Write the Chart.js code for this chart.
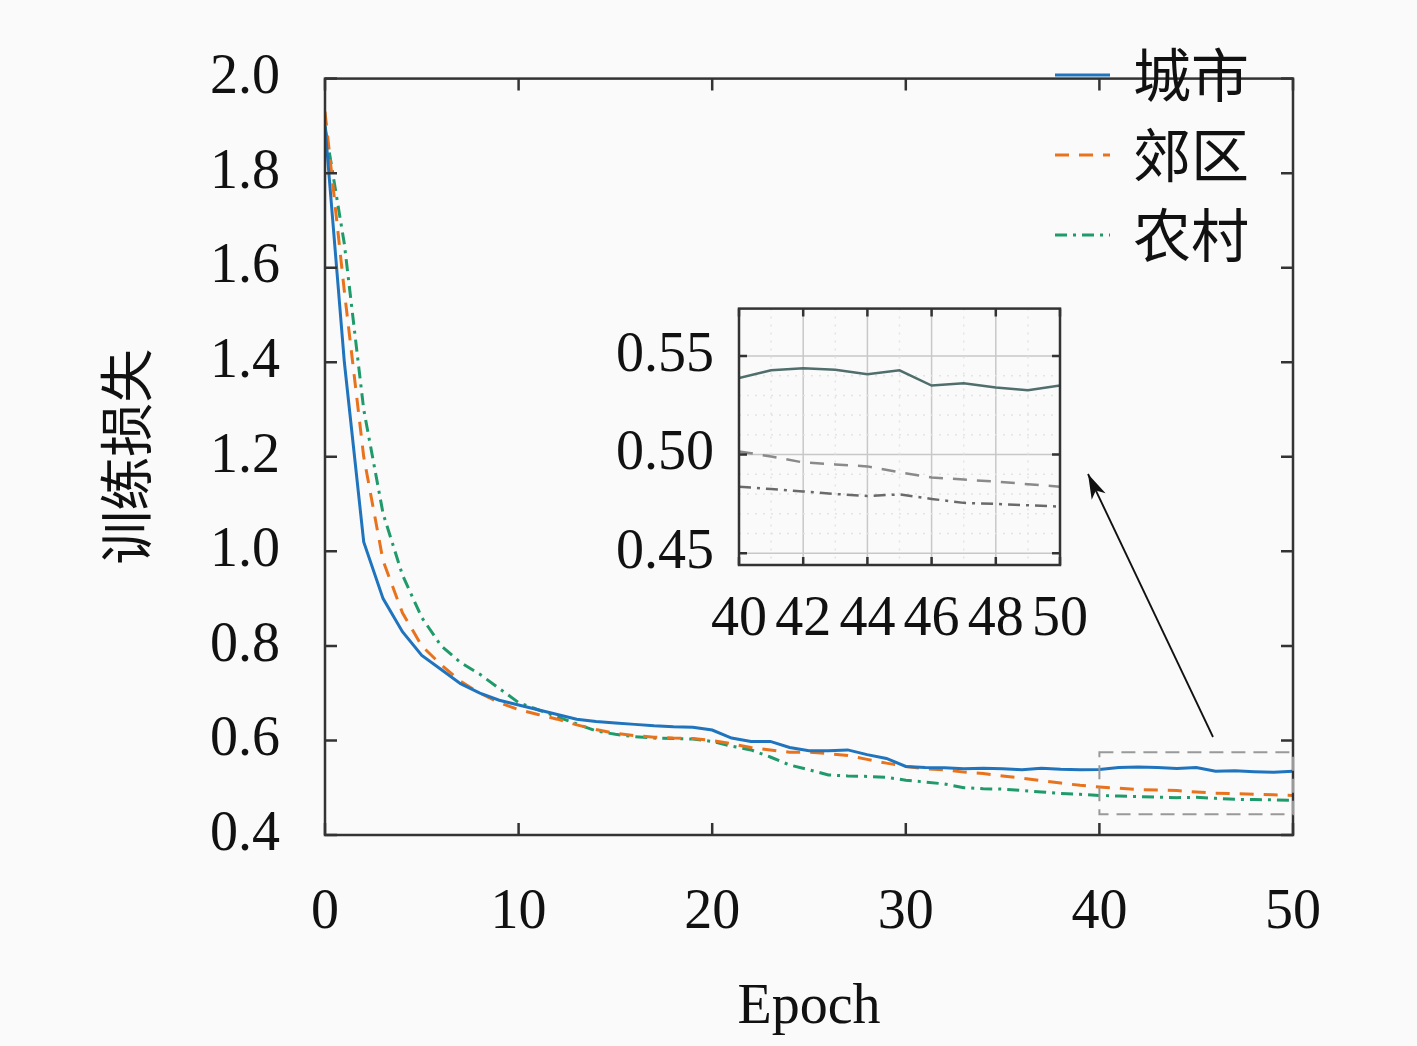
<!DOCTYPE html>
<html><head><meta charset="utf-8">
<script src="https://cdn.jsdelivr.net/npm/chart.js@4"></script>
<style>
html,body{margin:0;padding:0;background:#fafafa;}
#wrap{position:relative;width:1417px;height:1046px;}
#main{position:absolute;left:0;top:0;}
#inset{position:absolute;left:590px;top:250px;}
</style></head><body>
<div id="wrap"><canvas id="main" width="1417" height="1046"></canvas><canvas id="inset" width="520" height="410"></canvas></div>
<script>
const epochs = Array.from({length:51},(_,i)=>i);
const seriesNames = ['城市','郊区','农村'];
const city = [1.90,1.40,1.02,0.90,0.83,0.78,0.75,0.72,0.70,0.685,0.675,0.665,0.655,0.645,0.640,0.637,0.634,0.631,0.629,0.628,0.622,0.605,0.598,0.598,0.585,0.578,0.578,0.580,0.570,0.562,0.545,0.543,0.542,0.540,0.541,0.540,0.538,0.541,0.539,0.538,
  0.5388,0.5427,0.5438,0.5430,0.5407,0.5427,0.5350,0.5361,0.5340,0.5326,0.5350];
const suburb = [1.93,1.55,1.20,0.98,0.87,0.80,0.76,0.725,0.70,0.68,0.665,0.655,0.645,0.633,0.623,0.615,0.610,0.607,0.605,0.604,0.600,0.593,0.585,0.580,0.575,0.575,0.572,0.568,0.560,0.552,0.545,0.540,0.538,0.533,0.530,0.525,0.520,0.515,0.510,0.505,
  0.5016,0.4990,0.4960,0.4950,0.4940,0.4910,0.4884,0.4873,0.4863,0.4850,0.4837];
const rural = [1.90,1.65,1.30,1.08,0.95,0.86,0.80,0.765,0.74,0.71,0.68,0.665,0.65,0.635,0.62,0.613,0.608,0.605,0.604,0.603,0.598,0.588,0.580,0.565,0.548,0.538,0.527,0.525,0.524,0.522,0.516,0.512,0.508,0.500,0.498,0.497,0.494,0.491,0.488,0.486,
  0.4837,0.4825,0.4813,0.4800,0.4790,0.4798,0.4775,0.4755,0.4750,0.4743,0.4736];
const yTicksMain = [0.4,0.6,0.8,1.0,1.2,1.4,1.6,1.8,2.0];
const xTicksMain = [0,10,20,30,40,50];
const xTicksInset = [40,42,44,46,48,50];
const yTicksInset = [0.45,0.50,0.55];

const serif = '"Liberation Serif","DejaVu Serif",serif';
const FS = 56;
const colors = ['#1f74bd','#e8731c','#1f9a6a'];
const insetColors = ['#4f6e6c','#8a8a8a','#6a6a6a'];
const dashes = [[],[14,10],[12,6,3,6]];

function frameTicks(chart, xt, yt, len){
  const {ctx, chartArea:a, scales:{x,y}} = chart;
  ctx.save(); ctx.strokeStyle='#333'; ctx.lineWidth=2.5;
  ctx.strokeRect(a.left,a.top,a.right-a.left,a.bottom-a.top);
  ctx.beginPath();
  xt.forEach(v=>{const px=x.getPixelForValue(v);ctx.moveTo(px,a.bottom);ctx.lineTo(px,a.bottom-len);ctx.moveTo(px,a.top);ctx.lineTo(px,a.top+len);});
  yt.forEach(v=>{const py=y.getPixelForValue(v);ctx.moveTo(a.left,py);ctx.lineTo(a.left+len,py);ctx.moveTo(a.right,py);ctx.lineTo(a.right-len,py);});
  ctx.stroke(); ctx.restore();
}

const mainPlugin = {
  id:'mainDecor',
  afterDatasetsDraw(chart){
    const {ctx, chartArea:a, scales:{x,y}} = chart;
    frameTicks(chart, xTicksMain, yTicksMain, 12);
    ctx.save();
    ctx.strokeStyle='#999'; ctx.lineWidth=2; ctx.setLineDash([14,8]);
    const x0=x.getPixelForValue(40), x1=x.getPixelForValue(50);
    const y0=y.getPixelForValue(0.575), y1=y.getPixelForValue(0.444);
    ctx.strokeRect(x0,y0,x1-x0,y1-y0);
    ctx.setLineDash([]);
    const sx=1213, sy=737, ex=1088, ey=474;
    ctx.strokeStyle='#111'; ctx.fillStyle='#111'; ctx.lineWidth=1.8;
    ctx.beginPath(); ctx.moveTo(sx,sy); ctx.lineTo(ex,ey); ctx.stroke();
    const ang=Math.atan2(ey-sy,ex-sx), L=26, W=0.3;
    ctx.beginPath(); ctx.moveTo(ex,ey);
    ctx.lineTo(ex-L*Math.cos(ang-W), ey-L*Math.sin(ang-W));
    ctx.lineTo(ex-L*0.7*Math.cos(ang), ey-L*0.7*Math.sin(ang));
    ctx.lineTo(ex-L*Math.cos(ang+W), ey-L*Math.sin(ang+W));
    ctx.closePath(); ctx.fill();
    ctx.font = '58px "Noto Sans CJK SC"'; ctx.textBaseline='middle'; ctx.fillStyle='#111';
    chart.data.datasets.forEach((d,i)=>{
      const ly = 75 + i*80;
      ctx.strokeStyle=d.borderColor; ctx.lineWidth=3; ctx.setLineDash(d.borderDash||[]);
      ctx.beginPath(); ctx.moveTo(1055,ly); ctx.lineTo(1110,ly); ctx.stroke();
      ctx.setLineDash([]);
      ctx.fillText(d.label,1133,ly);
    });
    ctx.restore();
  }
};

new Chart(document.getElementById('main'),{
  type:'line',
  data:{labels:epochs, datasets:[city,suburb,rural].map((d,i)=>({
    label:seriesNames[i], data:d.map((v,j)=>({x:epochs[j],y:v})), borderColor:colors[i], borderWidth:3,
    borderDash:dashes[i], pointRadius:0, tension:0, fill:false}))},
  options:{responsive:false, animation:false, devicePixelRatio:1,
    layout:{padding:{left:90,top:-22,right:124,bottom:0}},
    plugins:{legend:{display:false},tooltip:{enabled:false}},
    scales:{
      x:{type:'linear',min:0,max:50,
        afterFit(s){s.height=211;},
        afterBuildTicks(s){s.ticks=xTicksMain.map(v=>({value:v}));},
        grid:{display:false,drawTicks:false}, border:{display:false},
        ticks:{font:{family:serif,size:FS},color:'#111',padding:45,maxRotation:0,callback:v=>String(v)},
        title:{display:true,text:'Epoch',font:{family:serif,size:FS},color:'#111',padding:{top:20}}},
      y:{type:'linear',min:0.4,max:2.0,
        afterFit(s){s.width=235;},
        afterBuildTicks(s){s.ticks=yTicksMain.map(v=>({value:v}));},
        grid:{display:false,drawTicks:false}, border:{display:false},
        ticks:{font:{family:serif,size:FS},color:'#111',padding:45,callback:v=>v.toFixed(1)},
        title:{display:true,text:'训练损失',font:{family:'"Noto Sans CJK SC"',size:54},color:'#111',padding:{bottom:20}}}
    }},
  plugins:[mainPlugin]
});

const insetPlugin = {
  id:'insetDecor',
  beforeDatasetsDraw(chart){
    const {ctx, chartArea:a, scales:{x,y}} = chart;
    ctx.save(); ctx.strokeStyle='#c8c8c8'; ctx.lineWidth=1.5;
    ctx.beginPath();
    xTicksInset.forEach(v=>{const px=x.getPixelForValue(v);ctx.moveTo(px,a.top);ctx.lineTo(px,a.bottom);});
    yTicksInset.forEach(v=>{const py=y.getPixelForValue(v);ctx.moveTo(a.left,py);ctx.lineTo(a.right,py);});
    ctx.stroke();
    ctx.strokeStyle='#e4e4e4'; ctx.setLineDash([2,6]); ctx.beginPath();
    [41,43,45,47,49].forEach(v=>{const px=x.getPixelForValue(v);ctx.moveTo(px,a.top);ctx.lineTo(px,a.bottom);});
    [0.46,0.47,0.48,0.49,0.51,0.52,0.53,0.54].forEach(v=>{const py=y.getPixelForValue(v);ctx.moveTo(a.left,py);ctx.lineTo(a.right,py);});
    ctx.stroke(); ctx.restore();
  },
  afterDatasetsDraw(chart){ frameTicks(chart, xTicksInset, yTicksInset, 8); }
};

new Chart(document.getElementById('inset'),{
  type:'line',
  data:{datasets:[city,suburb,rural].map((d,i)=>({
    label:seriesNames[i], data:d.map((v,j)=>({x:epochs[j],y:v})).filter(p=>p.x>=40),
    borderColor:insetColors[i], borderWidth:2.5, borderDash:dashes[i], pointRadius:0, tension:0}))},
  options:{responsive:false, animation:false, devicePixelRatio:1,
    layout:{padding:{left:0,top:-28,right:32,bottom:0}},
    plugins:{legend:{display:false},tooltip:{enabled:false}},
    scales:{
      x:{type:'linear',min:40,max:50,
        afterFit(s){s.height=95;},
        afterBuildTicks(s){s.ticks=xTicksInset.map(v=>({value:v}));},
        grid:{display:false,drawTicks:false}, border:{display:false},
        ticks:{font:{family:serif,size:FS},color:'#111',padding:22,maxRotation:0,autoSkip:false,callback:v=>String(v)}},
      y:{type:'linear',min:0.444,max:0.574,
        afterFit(s){s.width=149;},
        afterBuildTicks(s){s.ticks=yTicksInset.map(v=>({value:v}));},
        grid:{display:false,drawTicks:false}, border:{display:false},
        ticks:{font:{family:serif,size:FS},color:'#111',padding:25,callback:v=>v.toFixed(2)}}
    }},
  plugins:[insetPlugin]
});
</script></body></html>
